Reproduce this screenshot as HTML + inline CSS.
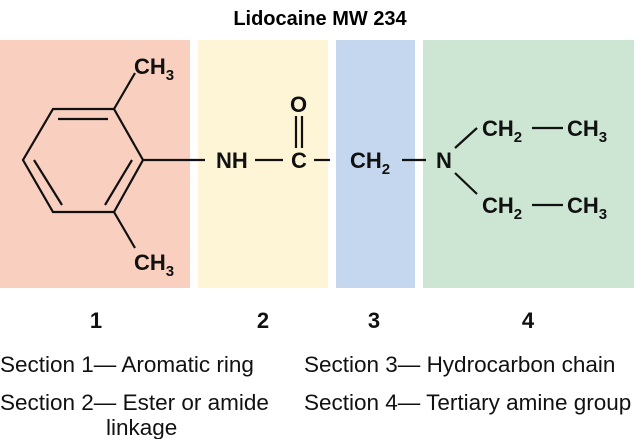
<!DOCTYPE html>
<html><head><style>
body{margin:0;background:#fff;width:643px;height:439px;overflow:hidden}
svg text{font-family:"Liberation Sans",Arial,sans-serif}
</style></head><body>
<svg width="643" height="439" viewBox="0 0 643 439">
<rect x="0" y="40" width="190" height="248" fill="#f9d0c0"/>
<rect x="198" y="40" width="130" height="248" fill="#fdf5d6"/>
<rect x="336" y="40" width="79" height="248" fill="#c5d7ee"/>
<rect x="423" y="40" width="211" height="248" fill="#cde6d3"/>
<text x="320" y="25" font-size="20" font-weight="bold" text-anchor="middle">Lidocaine MW 234</text>
<g stroke="#111" stroke-width="2.2" fill="none">
<polygon points="53,109 114,109 143,160 114,212 53,212 23,160"/>
<line x1="58" y1="119" x2="108" y2="119"/>
<line x1="34" y1="160" x2="62" y2="205"/>
<line x1="105" y1="205" x2="132" y2="160"/>
<line x1="114" y1="109" x2="135" y2="73"/>
<line x1="114" y1="212" x2="135" y2="248"/>
<line x1="143" y1="160" x2="205" y2="160"/>
<line x1="255" y1="160" x2="283" y2="160"/>
<line x1="296" y1="116" x2="296" y2="148"/>
<line x1="302" y1="116" x2="302" y2="148"/>
<line x1="314" y1="160" x2="330" y2="160"/>
<line x1="402" y1="160" x2="426" y2="160"/>
<line x1="455" y1="148" x2="477" y2="128"/>
<line x1="455" y1="173" x2="477" y2="194"/>
<line x1="532" y1="128" x2="563" y2="128"/>
<line x1="532" y1="205" x2="563" y2="205"/>
</g>
<g font-size="22" font-weight="bold" fill="#111">
<text x="134" y="74">CH<tspan font-size="15" dy="6">3</tspan></text>
<text x="134" y="270">CH<tspan font-size="15" dy="6">3</tspan></text>
<text x="216" y="168">NH</text>
<text x="291" y="168">C</text>
<text x="290" y="112">O</text>
<text x="350" y="168">CH<tspan font-size="15" dy="6">2</tspan></text>
<text x="436" y="168">N</text>
<text x="482" y="136">CH<tspan font-size="15" dy="6">2</tspan></text>
<text x="567" y="136">CH<tspan font-size="15" dy="6">3</tspan></text>
<text x="482" y="213">CH<tspan font-size="15" dy="6">2</tspan></text>
<text x="567" y="213">CH<tspan font-size="15" dy="6">3</tspan></text>
<text x="96" y="328" text-anchor="middle">1</text>
<text x="263" y="328" text-anchor="middle">2</text>
<text x="374" y="328" text-anchor="middle">3</text>
<text x="528" y="328" text-anchor="middle">4</text>
</g>
<g font-size="22.5" fill="#111">
<text x="0" y="372">Section 1— Aromatic ring</text>
<text x="0" y="410">Section 2— Ester or amide</text>
<text x="106" y="435">linkage</text>
<text x="304" y="372">Section 3— Hydrocarbon chain</text>
<text x="304" y="410">Section 4— Tertiary amine group</text>
</g>
</svg>
</body></html>
